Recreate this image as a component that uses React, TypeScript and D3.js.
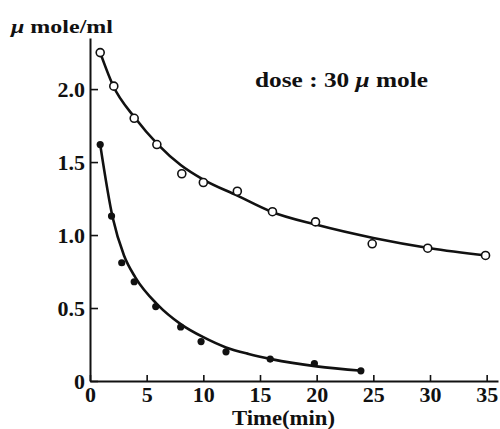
import React, { useEffect, useRef } from 'react';
import * as d3 from 'd3';

// open circles (upper series)
const openTime = [0.9, 2.1, 3.9, 5.9, 8.1, 10, 13, 16.1, 19.9, 24.9, 29.8, 34.9];
const openConc = [2.25, 2.02, 1.8, 1.62, 1.42, 1.36, 1.3, 1.16, 1.09, 0.94, 0.91, 0.86];
// filled dots (lower series)
const filledTime = [0.9, 1.9, 2.8, 3.9, 5.8, 8.0, 9.8, 12, 15.9, 19.8, 23.9];
const filledConc = [1.62, 1.13, 0.81, 0.68, 0.51, 0.37, 0.27, 0.2, 0.15, 0.12, 0.07];
// fitted curves as drawn in the figure
const openFitTime = [0.9, 2, 4, 6, 8, 10, 13, 16, 20, 25, 30, 35];
const openFitConc = [2.25, 2.03, 1.8, 1.62, 1.48, 1.38, 1.27, 1.16, 1.07, 0.98, 0.91, 0.86];
const filledFitTime = [0.9, 2, 3, 4, 6, 8, 10, 12, 14, 16, 20, 24];
const filledFitConc = [1.62, 1.12, 0.86, 0.71, 0.52, 0.39, 0.3, 0.23, 0.185, 0.15, 0.1, 0.07];

const xTicks = [0, 5, 10, 15, 20, 25, 30, 35];
const yTicks = [0, 0.5, 1.0, 1.5, 2.0];

const FONT = '"Liberation Serif", "DejaVu Serif", serif';

const App = () => {
  const svgRef = useRef(null);

  useEffect(() => {
    const svg = d3.select(svgRef.current);
    svg.selectAll('*').remove();

    const x = d3.scaleLinear().domain([0, 36]).range([90, 498]);
    const y = d3.scaleLinear().domain([0, 2.35]).range([381, 38]);

    const yAxis = svg.append('g')
      .attr('transform', 'translate(90,0)')
      .call(d3.axisLeft(y).tickValues(yTicks).tickSizeInner(-8).tickSizeOuter(0).tickPadding(5)
        .tickFormat(d => (d === 0 ? '0' : d.toFixed(1))));
    const xAxis = svg.append('g')
      .attr('transform', 'translate(0,381)')
      .call(d3.axisBottom(x).tickValues(xTicks).tickSizeInner(-6).tickSizeOuter(0).tickPadding(5)
        .tickFormat(d3.format('d')));

    [yAxis, xAxis].forEach(ax => {
      ax.select('.domain').attr('stroke', '#111').attr('stroke-width', 2);
      ax.selectAll('.tick line').attr('stroke', '#111').attr('stroke-width', 1.6);
      ax.selectAll('.tick text')
        .attr('fill', '#111')
        .style('font-family', FONT)
        .style('font-weight', 'bold')
        .style('font-size', '22px');
    });
    yAxis.selectAll('.tick text').attr('dy', '0.34em');

    const line = d3.line().x(d => x(d[0])).y(d => y(d[1])).curve(d3.curveMonotoneX);

    const curves = [
      d3.zip(openFitTime, openFitConc),
      d3.zip(filledFitTime, filledFitConc),
    ];
    svg.selectAll('path.fit')
      .data(curves)
      .join('path')
      .attr('class', 'fit')
      .attr('fill', 'none')
      .attr('stroke', '#111')
      .attr('stroke-width', 2.6)
      .attr('d', d => line(d));

    svg.selectAll('circle.open')
      .data(d3.zip(openTime, openConc))
      .join('circle')
      .attr('class', 'open')
      .attr('cx', d => x(d[0]))
      .attr('cy', d => y(d[1]))
      .attr('r', 4)
      .attr('fill', 'white')
      .attr('stroke', '#111')
      .attr('stroke-width', 1.6);

    svg.selectAll('circle.filled')
      .data(d3.zip(filledTime, filledConc))
      .join('circle')
      .attr('class', 'filled')
      .attr('cx', d => x(d[0]))
      .attr('cy', d => y(d[1]))
      .attr('r', 3.6)
      .attr('fill', '#111');

    // parts: [text, italic?]
    const label = (parts, tx, ty, size, len) => {
      const t = svg.append('text')
        .attr('x', tx).attr('y', ty)
        .attr('textLength', len)
        .attr('lengthAdjust', 'spacingAndGlyphs')
        .attr('fill', '#111')
        .style('font-family', FONT)
        .style('font-weight', 'bold')
        .style('font-size', size + 'px');
      parts.forEach(p => t.append('tspan').style('font-style', p[1] ? 'italic' : 'normal').text(p[0]));
    };

    label([['\u03bc', true], [' mole/ml', false]], 11, 33, 19, 102);
    label([['dose : 30 ', false], ['\u03bc', true], [' mole', false]], 255, 87, 21, 173);
    label([['Time(min)', false]], 232, 425, 21, 103);
  }, []);

  return (
    <svg ref={svgRef} width="500" height="429" style={{ display: 'block', position: 'absolute', left: 0, top: 0, background: 'white' }} />
  );
};

export default App;
